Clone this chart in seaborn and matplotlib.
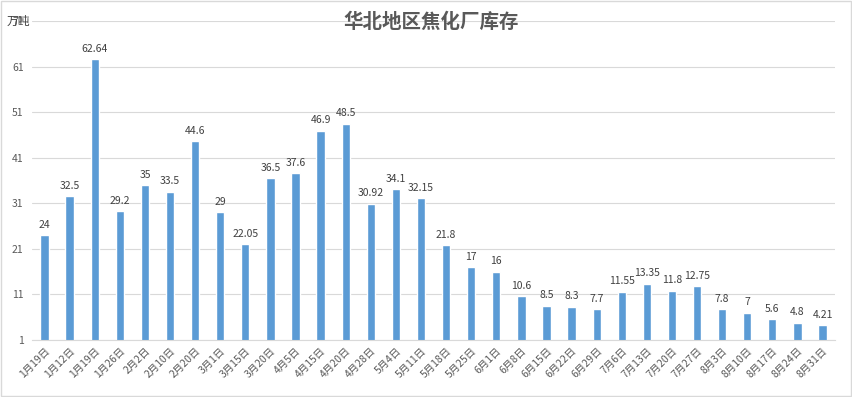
import numpy as np
import pandas as pd
import seaborn as sns
import matplotlib.pyplot as plt

# data
dates = ['1月19日', '1月12日', '1月19日', '1月26日', '2月2日', '2月10日', '2月20日', '3月1日',
         '3月15日', '3月20日', '4月5日', '4月15日', '4月20日', '4月28日', '5月4日', '5月11日',
         '5月18日', '5月25日', '6月1日', '6月8日', '6月15日', '6月22日', '6月29日', '7月6日',
         '7月13日', '7月20日', '7月27日', '8月3日', '8月10日', '8月17日', '8月24日', '8月31日']
values = [24, 32.5, 62.64, 29.2, 35, 33.5, 44.6, 29, 22.05, 36.5, 37.6, 46.9, 48.5, 30.92,
          34.1, 32.15, 21.8, 17, 16, 10.6, 8.5, 8.3, 7.7, 11.55, 13.35, 11.8, 12.75, 7.8,
          7, 5.6, 4.8, 4.21]
labels = ['24', '32.5', '62.64', '29.2', '35', '33.5', '44.6', '29', '22.05', '36.5', '37.6',
          '46.9', '48.5', '30.92', '34.1', '32.15', '21.8', '17', '16', '10.6', '8.5', '8.3',
          '7.7', '11.55', '13.35', '11.8', '12.75', '7.8', '7', '5.6', '4.8', '4.21']
y_ticks = [1, 11, 21, 31, 41, 51, 61, 71]

sns.set_style('white')
plt.rcParams['font.family'] = ['Noto Sans CJK SC', 'DejaVu Sans']

grey = '#595959'
df = pd.DataFrame({'pos': np.arange(len(values)), 'value': values})

fig = plt.figure(figsize=(8.53, 3.97), dpi=100)
ax = fig.add_axes([0.0375, 0.1436, 0.9415, 0.8034])
sns.barplot(data=df, x='pos', y='value', color='#5B9BD5', width=0.33, saturation=1, ax=ax)

ax.set_ylim(1, 71)
ax.set_yticks(y_ticks)
ax.set_yticklabels([str(t) for t in y_ticks], fontsize=7.5, color=grey)
ax.yaxis.grid(True, color='#D9D9D9', linewidth=0.8)
ax.set_axisbelow(True)
ax.set_xlim(-0.5, len(values) - 0.5)
ax.set_xticks(np.arange(len(values)))
ax.set_xticklabels(dates, rotation=45, ha='right', rotation_mode='anchor', fontsize=7.5, color=grey)
ax.set_xlabel('')
ax.set_ylabel('')
ax.tick_params(axis='y', length=0, pad=6)
ax.tick_params(axis='x', length=0, pad=4)
for s in ['top', 'right', 'left']:
    ax.spines[s].set_visible(False)
ax.spines['bottom'].set_color('#D9D9D9')

for i, (v, t) in enumerate(zip(values, labels)):
    ax.text(i, v + 1.2, t, ha='center', va='bottom', fontsize=7.5, color='#404040')

fig.text(0.505, 0.945, '华北地区焦化厂库存', ha='center', va='center', fontsize=14,
         fontweight='bold', color=grey)
fig.text(0.008, 0.945, '万吨', ha='left', va='center', fontsize=8.5, color='#404040')

fig.patches.append(plt.Rectangle((0.001, 0.002), 0.997, 0.995, transform=fig.transFigure,
                                 fill=False, edgecolor='#D9D9D9', linewidth=1))

fig.savefig('out.png', dpi=100)
